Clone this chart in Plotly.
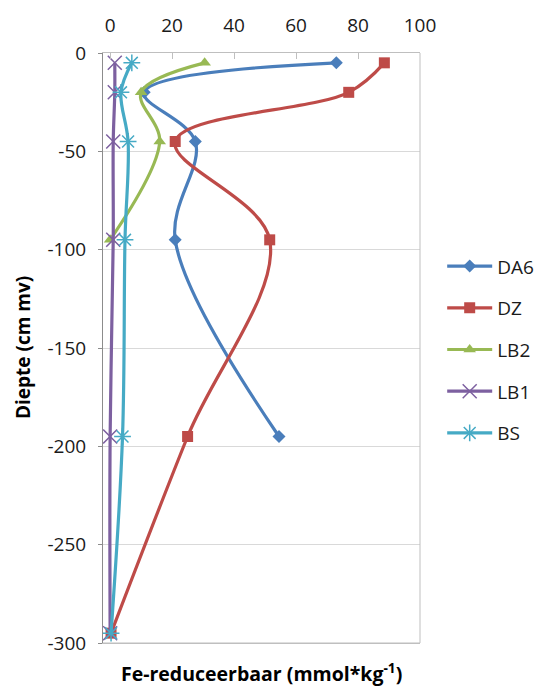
import plotly.graph_objects as go

depth = [-5, -20, -45, -95, -195, -295]

series_names = ["DA6", "DZ", "LB2", "LB1", "BS"]
da6 = [73, 11, 27.5, 21, 54.5]
dz = [88.5, 77, 21, 51.5, 25, 0.3]
lb2 = [30.5, 10, 16, 0]
lb1 = [1.5, 1.5, 1, 1, 0, 0]
bs = [7, 3.5, 5.8, 4.8, 4, 0.3]

x_ticks = [0, 20, 40, 60, 80, 100]
y_ticks = [0, -50, -100, -150, -200, -250, -300]
y_tick_labels = ["0", "-50", "-100", "-150", "-200", "-250", "-300"]

colors = ["#4A7EBB", "#BE4B48", "#98B954", "#7D60A0", "#46AAC5"]
symbols = ["diamond", "square", "triangle-up", "x-thin", "asterisk"]
sizes = [10, 11, 11, 14, 14]
values = [da6, dz, lb2, lb1, bs]

FONT = "Open Sans"

fig = go.Figure()
for i, (name, vals) in enumerate(zip(series_names, values)):
    thin = symbols[i] in ("x-thin", "asterisk")
    fig.add_trace(go.Scatter(
        x=vals, y=depth[:len(vals)], name=name, mode="lines+markers",
        line=dict(color=colors[i], width=3.2, shape="spline", smoothing=1.0),
        marker=dict(symbol=symbols[i], size=sizes[i], color=colors[i],
                    line=dict(color=colors[i], width=1.5 if thin else 0)),
        legendgroup=name,
    ))

fig.update_layout(
    width=536, height=688,
    margin=dict(l=103, r=116, t=53, b=45, autoexpand=False),
    paper_bgcolor="white", plot_bgcolor="white",
    font=dict(family=FONT, size=18, color="#1a1a1a"),
    showlegend=True,
    legend=dict(x=1.07, y=0.497, xanchor="left", yanchor="middle",
                font=dict(family=FONT, size=19, color="#1a1a1a"),
                itemwidth=45,
                tracegroupgap=14, bgcolor="rgba(0,0,0,0)"),
    xaxis=dict(range=[-2.3, 100], side="top", tickvals=x_ticks,
               automargin=False, ticklabelstandoff=12,
               showgrid=False, zeroline=False,
               showline=True, linecolor="#BFBFBF", linewidth=1, mirror=True,
               ticks="inside", ticklen=6, tickcolor="#BFBFBF",
               tickfont=dict(family=FONT, size=19, color="#1a1a1a")),
    yaxis=dict(range=[-300, 0], tickvals=y_ticks, ticktext=y_tick_labels,
               automargin=False, ticklabelstandoff=8,
               showgrid=True, gridcolor="#D9D9D9", gridwidth=1, zeroline=False,
               showline=True, linecolor="#8C8C8C", linewidth=1, mirror=False,
               ticks="outside", ticklen=4, tickcolor="#8C8C8C",
               tickfont=dict(family=FONT, size=19, color="#1a1a1a")),
)

# y-axis title
fig.add_annotation(text="<b>Diepte (cm mv)</b>", xref="paper", yref="paper",
                   x=0, xshift=-80, y=0.5, textangle=-90,
                   xanchor="center", yanchor="middle", showarrow=False,
                   font=dict(family=FONT, size=19, color="#000000"))

# right and bottom frame lines
fig.add_shape(type="line", xref="paper", yref="paper", x0=1, x1=1, y0=0, y1=1,
              line=dict(color="#BFBFBF", width=1))
fig.add_shape(type="line", xref="paper", yref="paper", x0=0, x1=1, y0=0, y1=0,
              line=dict(color="#BFBFBF", width=1))

fig.add_annotation(text="<b>Fe-reduceerbaar (mmol*kg<sup>-1</sup>)</b>",
                   xref="paper", yref="paper", x=0.5, y=0, yshift=-29,
                   xanchor="center", yanchor="middle", showarrow=False,
                   font=dict(family=FONT, size=19.5, color="#000000"))

fig.write_html("out.html", config={"displayModeBar": False},
               post_script="document.body.style.margin='0';document.body.style.padding='0';")
